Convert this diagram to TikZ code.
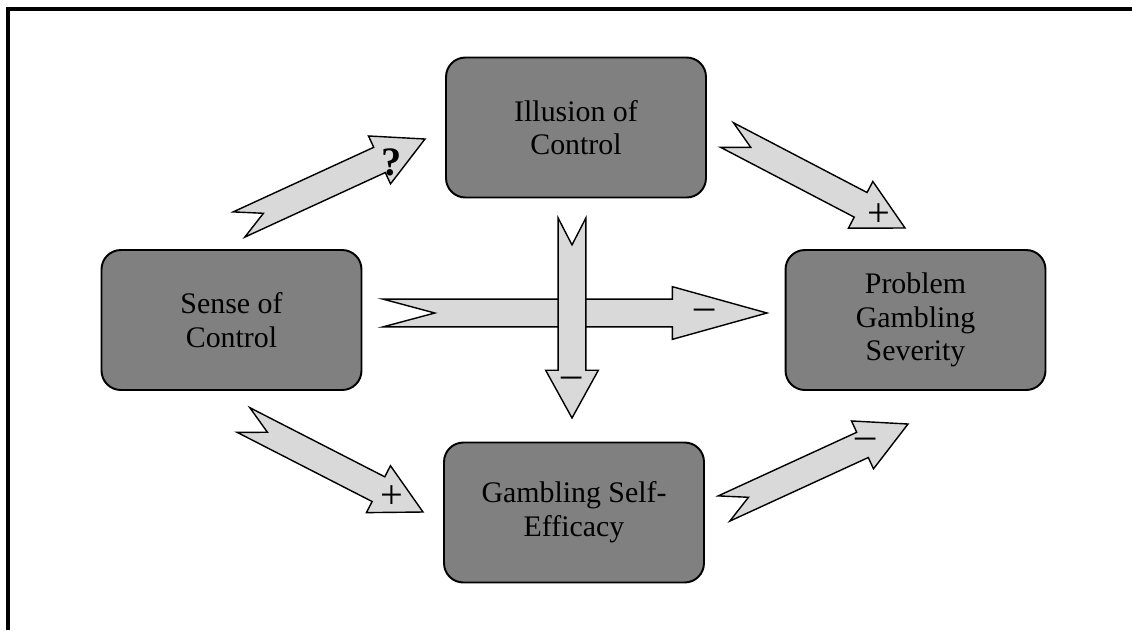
\documentclass[tikz,border=0pt]{standalone}
\usepackage{fontspec}
\setmainfont{Liberation Serif}
\usepackage{tikz}
\usetikzlibrary{calc, positioning}

\definecolor{boxgray}{RGB}{128,128,128}
\definecolor{arrowgray}{RGB}{217,217,217}

\tikzset{
	box/.style={draw, line width=1.1pt, rounded corners=11pt, fill=boxgray,
		minimum width=5.2cm, minimum height=2.8cm, align=center,
		font=\fontsize{17}{19.2}\selectfont},
	fatarrow/.style={draw, line width=0.8pt, fill=arrowgray, line join=miter},
	sign/.style={inner sep=0pt, font=\fontsize{23}{23}\selectfont}
}

% fat arrow with a notched tail: name, tail, tip, head length, notch depth
\newcommand{\fatarrow}[5]{%
	\coordinate (#1-h) at ($(#3)!#4!(#2)$);
	\coordinate (#1-n) at ($(#2)!#5!(#3)$);
	\draw[fatarrow] ($(#2)!7.9pt!90:(#3)$) -- (#1-n) -- ($(#2)!7.9pt!-90:(#3)$)
	-- ($(#1-h)!7.9pt!-90:(#3)$) -- ($(#1-h)!15pt!-90:(#3)$) -- (#3)
	-- ($(#1-h)!15pt!90:(#3)$) -- ($(#1-h)!7.9pt!90:(#3)$) -- cycle;
}

\begin{document}
\begin{tikzpicture}[x=0.02cm, y=-0.02cm]
	\useasboundingbox (0,0) rectangle (1132,630);
	
	% Frame
	\draw[line width=2pt] (1132,9) -- (8,9) -- (8,630);
	
	% Boxes
	\node[box] (ioc) at (576,127.5) {Illusion of\\Control};
	\node[box] (soc) at (231.5,320) {Sense of\\Control};
	\node[box] (pgs) at (915.5,320) {Problem\\Gambling\\Severity};
	\node[box] (gse) at (574,512.5) {Gambling Self-\\Efficacy};
	
	% Arrow ends
	\coordinate (q-t) at (239,224.5);   \coordinate (q-e) at (425,139);
	\coordinate (tr-t) at (727,135);    \coordinate (tr-e) at (905,228);
	\coordinate (hz-t) at (383,313);    \coordinate (hz-e) at (767,313);
	\coordinate (vt-t) at (572,218);    \coordinate (vt-e) at (572,418);
	\coordinate (bl-t) at (243.5,420);  \coordinate (bl-e) at (423,512);
	\coordinate (br-t) at (724,508.5);  \coordinate (br-e) at (908,424);
	
	% Arrows
	\fatarrow{q}{q-t}{q-e}{28.5pt}{15.3pt}
	\fatarrow{tr}{tr-t}{tr-e}{28.5pt}{15.3pt}
	\fatarrow{hz}{hz-t}{hz-e}{53.9pt}{29.5pt}
	\fatarrow{vt}{vt-t}{vt-e}{27.2pt}{15.3pt}
	\fatarrow{bl}{bl-t}{bl-e}{28.5pt}{15.3pt}
	\fatarrow{br}{br-t}{br-e}{28.5pt}{15.3pt}
	
	% Signs
	\node[sign] (q-s) at (392,162) {\textbf{?}};
	\node[sign] (tr-s) at (879,215) {+};
	\node[sign] (hz-s) at (705,314) {\textendash};
	\node[sign] (vt-s) at (572,382) {\textendash};
	\node[sign] (bl-s) at (392,497) {+};
	\node[sign] (br-s) at (866,443) {\textendash};
\end{tikzpicture}
\end{document}
